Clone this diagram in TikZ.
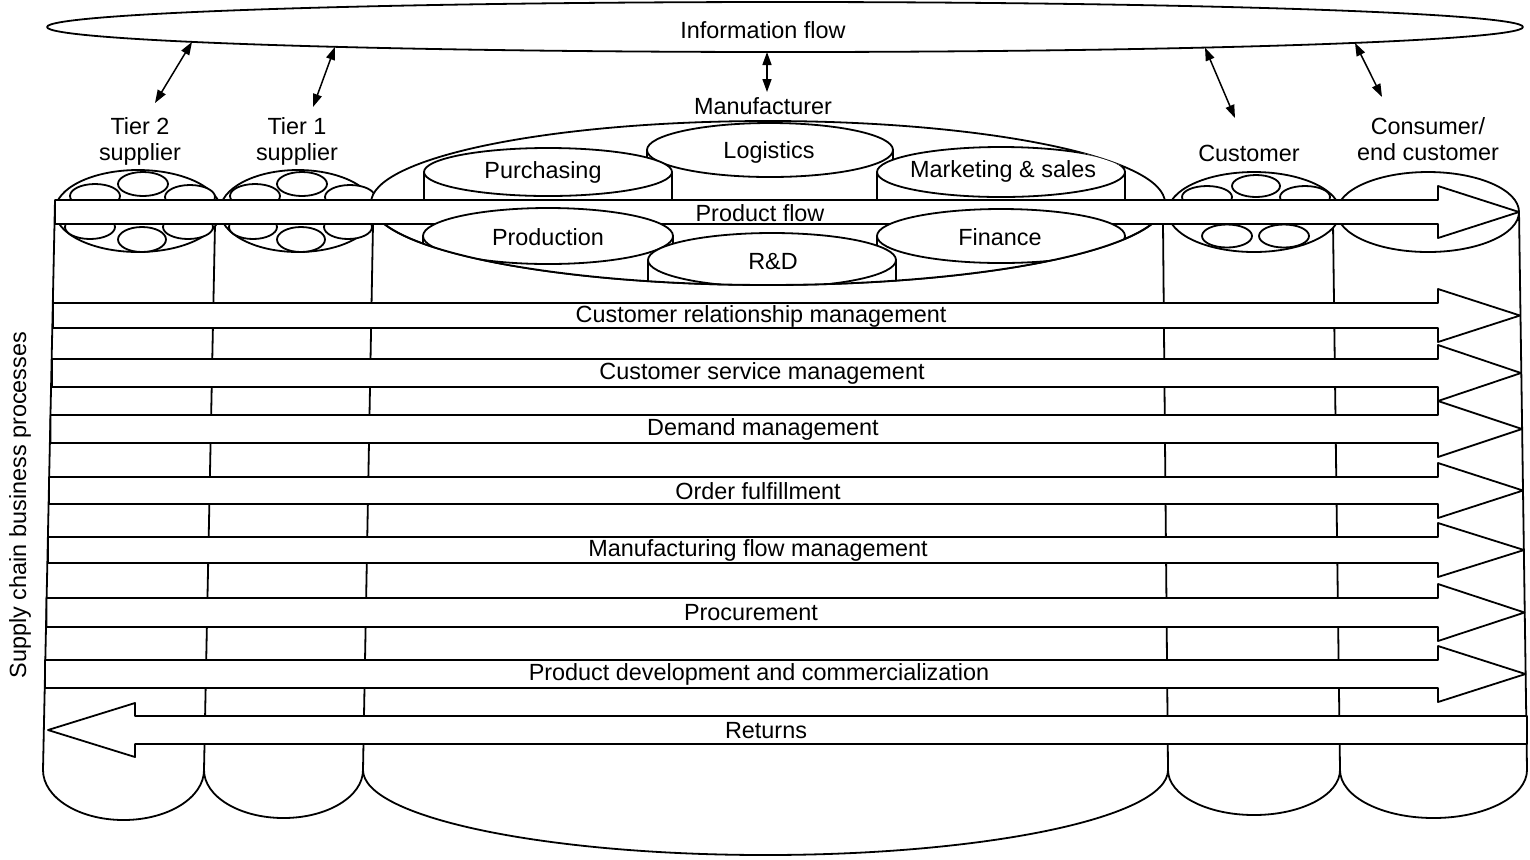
\documentclass[tikz,border=0pt]{standalone}
\usepackage{fontspec}
\setmainfont{Liberation Sans}
\usetikzlibrary{arrows.meta,shapes.geometric}

% cylinder: centre x, centre y, x radius, y radius, body depth
\newcommand\sccyl[5]{%
  \draw[fill=white] ({#1-#3},#2) -- ({#1-#3},{#2+#5})
     arc[start angle=180, end angle=0, x radius=#3, y radius=#4]
     -- ({#1+#3},#2) -- cycle;
  \draw[fill=white] (#1,#2) ellipse[x radius=#3, y radius=#4];
}
% process band: left x, shaft top, shaft bottom, tip x
\newcommand\scband[4]{%
  \draw[fill=white] (#1,#2) -- (1438,#2) -- (1438,{#2-14}) -- (#4,{(#2+#3)/2})
     -- (1438,{#3+14}) -- (1438,#3) -- (#1,#3) -- cycle;
}
% small oval inside a column top
\newcommand\scoval[4]{\draw[fill=white] (#1,#2) ellipse[x radius=#3, y radius=#4];}

\begin{document}
\begin{tikzpicture}[x=0.5pt,y=-0.5pt,
  line width=0.9pt, line join=round,
  every node/.style={font=\fontsize{11.7}{13}\selectfont, inner sep=0pt},
  lbl/.style={align=center},
  link/.style={<->, line width=0.75pt, >={Triangle[length=6.5pt,width=4.5pt]}},
]
\useasboundingbox (0,0) rectangle (1530,859);

% information flow lens
\node[draw, ellipse, minimum width=738pt, minimum height=25pt, inner sep=0pt] (info) at (785,27) {};
\node (infotext) at (763,30) {Information flow};

% actor labels
\node[lbl] (tier2) at (140,141) {Tier 2\\supplier};
\node[lbl] (tier1) at (297,141) {Tier 1\\supplier};
\node (manuf) at (763,106) {Manufacturer};
\node (cust) at (1249,153) {Customer};
\node[lbl] (cons) at (1428,139) {Consumer/\\end customer};

% information links
\coordinate (i2) at (192,41.9);  \coordinate (t2e) at (155,103);
\coordinate (i1) at (335,46.8);  \coordinate (t1e) at (313,107);
\coordinate (im) at (767,52);    \coordinate (mfe) at (767,92);
\coordinate (ic) at (1205,47.6); \coordinate (cue) at (1235,118);
\coordinate (io) at (1355,42.9); \coordinate (coe) at (1382,97);
\draw[link] (i2) -- (t2e);
\draw[link] (i1) -- (t1e);
\draw[link] (im) -- (mfe);
\draw[link] (ic) -- (cue);
\draw[link] (io) -- (coe);

% column walls
\draw (55,200) -- (43,770);
\draw (215,224) -- (204,770);
\draw (373,224) -- (363,770);
\draw (1163,224) -- (1168,770);
\draw (1333,224) -- (1340,770);
\draw (1519,212) -- (1527,770);

% column bottoms
\draw (43,770) arc[start angle=180, end angle=0, x radius=80.5, y radius=50];
\draw (204,770) arc[start angle=180, end angle=0, x radius=79.5, y radius=48];
\draw (363,770) arc[start angle=180, end angle=0, x radius=402.5, y radius=85];
\draw (1168,770) arc[start angle=180, end angle=0, x radius=86, y radius=45];
\draw (1340,770) arc[start angle=180, end angle=0, x radius=93.5, y radius=48];

% tier 2 supplier top
\draw[fill=white] (138,211) ellipse[x radius=83, y radius=41];
\scoval{143}{184}{25}{12}
\scoval{95}{196}{25}{12}
\scoval{190}{197}{25}{12}
\scoval{90}{227}{25}{12}
\scoval{188}{227}{25}{12}
\scoval{142}{239.5}{24}{12.5}

% tier 1 supplier top
\draw[fill=white] (298,211) ellipse[x radius=78, y radius=41];
\scoval{302}{184}{25}{12}
\scoval{255}{196}{25}{12}
\scoval{350}{197}{25}{12}
\scoval{253}{227}{24}{12}
\scoval{348}{227}{24}{12}
\scoval{301}{239.5}{24}{12.5}

% customer top
\draw[fill=white] (1254,212) ellipse[x radius=86, y radius=40];
\scoval{1256}{186}{24}{11}
\scoval{1207}{197}{25}{11}
\scoval{1305}{197}{25}{11}
\scoval{1227}{236}{25}{11.5}
\scoval{1284}{236}{25}{11.5}

% consumer top
\draw[fill=white] (1428,212) ellipse[x radius=91, y radius=40];

% manufacturer top with its functions
\draw[fill=white] (768,203) ellipse[x radius=397, y radius=82];
\begin{scope}
  \clip (768,203) ellipse[x radius=397, y radius=82];
  \sccyl{770}{150}{123}{27}{40}
  \sccyl{548}{172}{124}{24}{40}
  \sccyl{1001}{172}{124}{25}{40}
\end{scope}
\node (logistics) at (769,152) {Logistics};
\node (purchasing) at (543,172) {Purchasing};
\node (marketing) at (1003,171) {Marketing \& sales};

% product flow
\scband{55}{200}{224}{1519}

\begin{scope}
  \clip (768,203) ellipse[x radius=397, y radius=82];
  \sccyl{548}{236}{125}{28}{80}
  \sccyl{1001}{236}{124}{27}{80}
  \sccyl{772}{260}{124}{27}{60}
\end{scope}
\draw (384.2,223.9) arc[start angle=165.2, end angle=14.8, x radius=397, y radius=82];
\node (production) at (548,237) {Production};
\node (finance) at (1000,237) {Finance};
\node (rnd) at (773,262) {R\&D};
\node (pflow) at (760,213) {Product flow};

% business processes
\scband{53}{303}{328}{1520}
\scband{52}{359}{387}{1521}
\scband{50.5}{415}{443}{1522}
\scband{49}{477}{504}{1523}
\scband{48}{537}{563}{1524}
\scband{46.5}{598}{627}{1524.5}
\scband{45}{660}{688}{1525.5}
\draw[fill=white] (1527,716) -- (135,716) -- (135,703) -- (48,730) -- (135,757)
   -- (135,744) -- (1527,744) -- cycle;

\node (crm) at (761,316) {Customer relationship management};
\node (csm) at (762,373.5) {Customer service management};
\node (dm) at (763,429.5) {Demand management};
\node (of) at (758,491) {Order fulfillment};
\node (mfm) at (758,550.5) {Manufacturing flow management};
\node (proc) at (751,613) {Procurement};
\node (pdc) at (759,674.5) {Product development and commercialization};
\node (ret) at (766,731) {Returns};

\node[rotate=90] (scbp) at (20,505) {Supply chain business processes};
\end{tikzpicture}
\end{document}
